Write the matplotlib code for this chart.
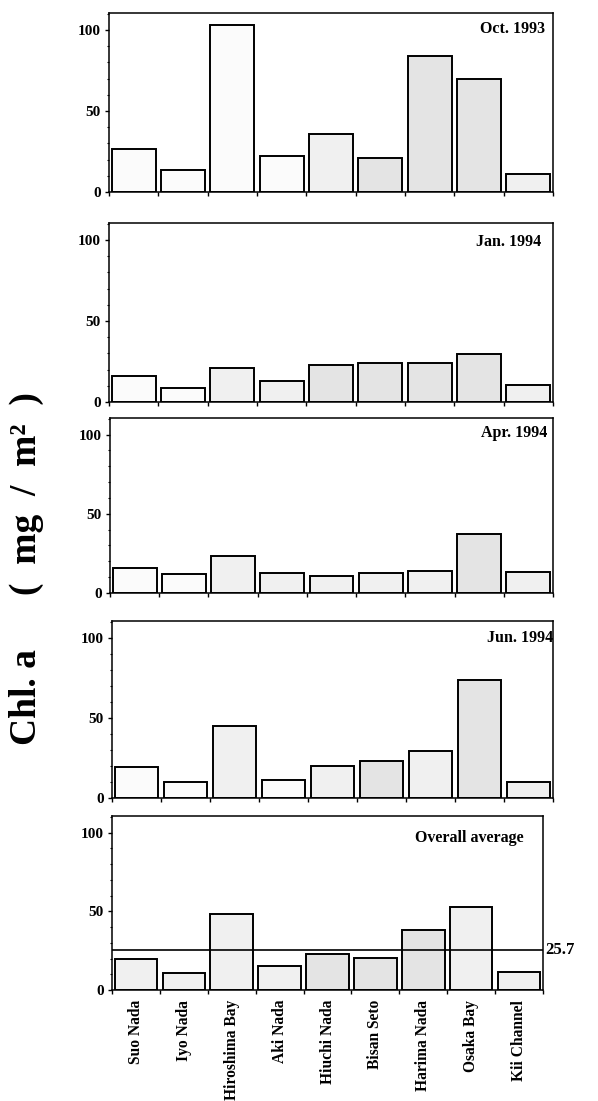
import matplotlib
matplotlib.use("Agg")
import matplotlib.pyplot as plt
import numpy as np

# ---- data ----
regions = ["Suo Nada", "Iyo Nada", "Hiroshima Bay", "Aki Nada", "Hiuchi Nada",
           "Bisan Seto", "Harima Nada", "Osaka Bay", "Kii Channel"]
titles = ["Oct. 1993", "Jan. 1994", "Apr. 1994", "Jun. 1994", "Overall average"]
oct_1993 = [26.4, 13.6, 103.0, 22.5, 35.7, 21.2, 83.9, 69.7, 11.3]
jan_1994 = [16.1, 8.9, 21.0, 13.2, 22.7, 24.1, 24.3, 29.7, 10.7]
apr_1994 = [15.6, 11.8, 23.5, 12.7, 11.0, 12.9, 13.7, 37.0, 13.3]
jun_1994 = [19.5, 9.9, 44.7, 11.0, 19.9, 23.2, 29.6, 73.7, 10.1]
overall = [19.6, 11.1, 48.1, 15.5, 22.6, 20.4, 38.1, 52.8, 11.3]
overall_mean = 25.7
yticks = [0, 50, 100]

series = [oct_1993, jan_1994, apr_1994, jun_1994, overall]

# ---- style ----
W, H = 598, 1101
# (left, right, top, bottom) in pixels
boxes = [(109, 553, 13, 192), (109, 553, 223, 402), (110, 553, 418, 593),
         (112, 553, 621, 798), (112, 543, 816, 990)]
title_pos = [(0.982, 0.91), (0.973, 0.894), (0.986, 0.914), (1.0, 0.904), (0.954, 0.874)]
W1, L1, G1 = "#fbfbfb", "#f0f0f0", "#e4e4e4"
shades = [
    [W1, W1, W1, W1, L1, G1, G1, G1, L1],
    [W1, W1, L1, L1, G1, G1, G1, G1, L1],
    [W1, W1, L1, L1, L1, L1, L1, G1, L1],
    [W1, W1, L1, W1, L1, G1, L1, G1, L1],
    [L1, L1, L1, L1, G1, G1, G1, L1, L1],
]
serif = ["Liberation Serif", "DejaVu Serif"]
plt.rcParams["font.family"] = serif

fig = plt.figure(figsize=(W / 100, H / 100), dpi=100)
x = np.arange(len(regions))

for i, (vals, (l, r, t, b)) in enumerate(zip(series, boxes)):
    ax = fig.add_axes([l / W, 1 - b / H, (r - l) / W, (b - t) / H])
    ax.bar(x, vals, width=0.89, color=shades[i], edgecolor="black", linewidth=1.4)
    ax.set_xlim(-0.5, len(regions) - 0.5)
    ax.set_ylim(0, 110.5)
    ax.set_yticks(yticks)
    ax.set_yticks(np.arange(0, 111, 10), minor=True)
    ax.set_yticklabels([str(v) for v in yticks], fontsize=11, fontweight="bold")
    ax.tick_params(axis="y", which="major", direction="out", length=3, width=1, pad=3)
    ax.tick_params(axis="y", which="minor", direction="out", length=1.5, width=0.8)
    ax.set_xticks(np.arange(-0.5, len(regions), 1.0), minor=True)
    ax.tick_params(axis="x", which="minor", direction="out", length=3, width=1)
    ax.set_xticks(x)
    if i == len(series) - 1:
        ax.set_xticklabels(regions, rotation=90, fontsize=11.2, fontweight="bold")
        ax.tick_params(axis="x", which="major", length=0, pad=7)
        ax.axhline(overall_mean, color="black", linewidth=1.2, xmin=0, xmax=1)
        ax.text(1.005, overall_mean, f"{overall_mean}", transform=ax.get_yaxis_transform(),
                fontsize=12, fontweight="bold", va="center", ha="left")
    else:
        ax.set_xticklabels([])
        ax.tick_params(axis="x", which="major", length=0)
    for s in ax.spines.values():
        s.set_linewidth(1.1)
    tx, ty = title_pos[i]
    ax.text(tx, ty, titles[i], transform=ax.transAxes, ha="right", va="center",
            fontsize=11.5, fontweight="bold")

fig.text(27 / W, 1 - 697 / H, "Chl. a", rotation=90,
         ha="center", va="center", fontsize=27, fontweight="bold")
fig.text(27 / W, 1 - 494 / H, "(  mg  /  m²  )", rotation=90,
         ha="center", va="center", fontsize=27, fontweight="bold")

fig.savefig("out.png", dpi=100)
